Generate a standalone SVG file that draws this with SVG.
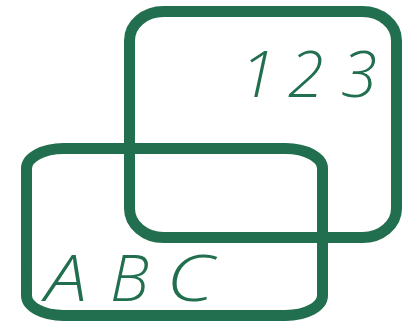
<svg xmlns="http://www.w3.org/2000/svg" width="409" height="321" viewBox="0 0 409 321">
<style>
.box{fill:none;stroke:#226f4f;stroke-width:11}
.t{fill:#226f4f;font-family:"Open Sans",Lato,"Liberation Sans",sans-serif;font-style:italic;font-weight:300;font-size:65px}
</style>
<rect width="409" height="321" fill="#ffffff"/>
<g id="connectors"/>
<g id="box123">
<rect class="box" x="129.5" y="11.5" width="267" height="226" rx="34" ry="29"/>
<text class="t" x="240" y="97">1</text>
<text class="t" x="288" y="97">2</text>
<text class="t" x="341" y="97">3</text>
</g>
<g id="boxABC">
<rect class="box" x="26.5" y="148.5" width="296" height="167" rx="37" ry="20"/>
<text class="t" x="45" y="301" textLength="42" lengthAdjust="spacingAndGlyphs">A</text>
<text class="t" x="110" y="301">B</text>
<text class="t" x="166" y="301" textLength="48" lengthAdjust="spacingAndGlyphs">C</text>
</g>
</svg>
